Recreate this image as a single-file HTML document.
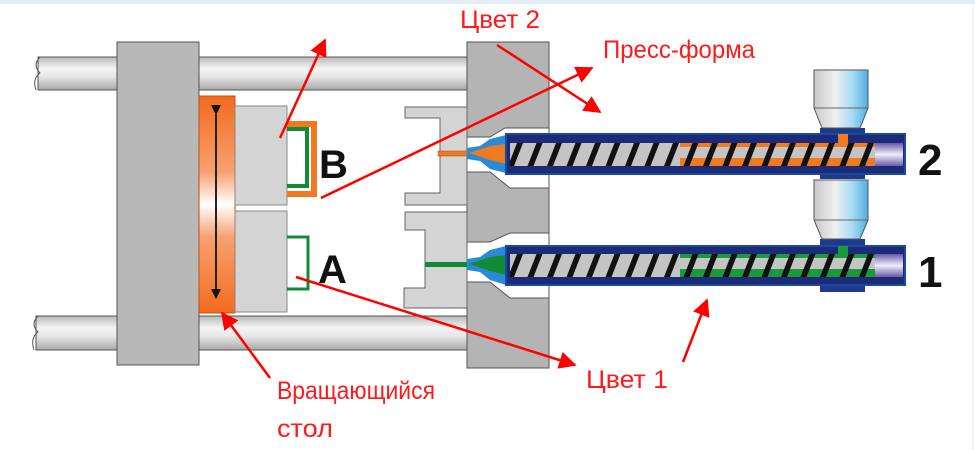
<!DOCTYPE html>
<html><head><meta charset="utf-8"><style>
html,body{margin:0;padding:0;background:#fff;width:975px;height:450px;overflow:hidden}
svg{display:block}
.r{font-family:"Liberation Sans",sans-serif;fill:#ff1a1a;font-size:25px}
.k{font-family:"Liberation Sans",sans-serif;font-weight:bold;fill:#111}
</style></head><body>
<svg width="975" height="450" viewBox="0 0 975 450" xmlns="http://www.w3.org/2000/svg">
<defs>
<linearGradient id="rod" x1="0" y1="0" x2="0" y2="1">
<stop offset="0" stop-color="#b8b8b8"/><stop offset="0.35" stop-color="#f4f4f4"/><stop offset="0.6" stop-color="#e6e6e6"/><stop offset="1" stop-color="#a8a8a8"/></linearGradient>
<linearGradient id="org" x1="0" y1="0" x2="0" y2="1">
<stop offset="0" stop-color="#f26b1d"/><stop offset="0.35" stop-color="#f8a070"/><stop offset="0.5" stop-color="#fff"/><stop offset="0.65" stop-color="#f8a070"/><stop offset="1" stop-color="#f26b1d"/></linearGradient>
<linearGradient id="hop" x1="0" y1="0" x2="1" y2="0">
<stop offset="0" stop-color="#c8c8c8"/><stop offset="0.4" stop-color="#f0f0f0"/><stop offset="0.7" stop-color="#a8dcf4"/><stop offset="1" stop-color="#4fb0e0"/></linearGradient>
<linearGradient id="pur" x1="0" y1="0" x2="0" y2="1">
<stop offset="0" stop-color="#6a5aa8"/><stop offset="0.5" stop-color="#eeeefa"/><stop offset="1" stop-color="#6a5aa8"/></linearGradient>
<pattern id="scr1" x="0" y="143" width="19.5" height="23" patternUnits="userSpaceOnUse">
<rect width="19.5" height="23" fill="#c4c4c4"/><polygon points="10,0 16,0 7,23 1,23" fill="#111"/></pattern>
<pattern id="scr2" x="0" y="254" width="19.5" height="23" patternUnits="userSpaceOnUse">
<rect width="19.5" height="23" fill="#c4c4c4"/><polygon points="10,0 16,0 7,23 1,23" fill="#111"/></pattern>
<pattern id="scrO" x="0" y="143" width="19.5" height="23" patternUnits="userSpaceOnUse">
<rect width="19.5" height="23" fill="#c4c4c4"/><rect y="0" width="19.5" height="4" fill="#f07a22"/><rect y="15" width="19.5" height="8" fill="#f07a22"/><polygon points="10,0 16,0 7,23 1,23" fill="#111"/></pattern>
<pattern id="scrG" x="0" y="254" width="19.5" height="23" patternUnits="userSpaceOnUse">
<rect width="19.5" height="23" fill="#c4c4c4"/><rect y="0" width="19.5" height="4" fill="#1a9a3a"/><rect y="15" width="19.5" height="8" fill="#1a9a3a"/><polygon points="10,0 16,0 7,23 1,23" fill="#111"/></pattern>
<marker id="ah" viewBox="0 0 10 10" refX="9" refY="5" markerWidth="7" markerHeight="7" orient="auto"><path d="M0,0 L10,5 L0,10 z" fill="#ff0000"/></marker>
<marker id="bh" viewBox="0 0 10 10" refX="9" refY="5" markerWidth="5" markerHeight="5" orient="auto"><path d="M0,0 L10,5 L0,10 z" fill="#111"/></marker>
</defs>
<rect x="0" y="0" width="975" height="4" fill="#e4ecf6"/>
<line x1="973" y1="4" x2="973" y2="450" stroke="#e8e8e8"/>
<rect x="38" y="57" width="430" height="33" fill="url(#rod)" stroke="#555" stroke-width="1"/>
<rect x="36" y="316" width="432" height="34" fill="url(#rod)" stroke="#555" stroke-width="1"/>
<path d="M40,57 q-8,8 0,16 q-8,6 -4,17" fill="none" stroke="#555"/>
<path d="M38,316 q-8,8 0,16 q-8,6 -4,18" fill="none" stroke="#555"/>
<rect x="117" y="42" width="82" height="323" fill="#b8b8b8" stroke="#555"/>
<rect x="199" y="96" width="36" height="217" fill="url(#org)" stroke="#c05010"/>
<line x1="216" y1="114" x2="216" y2="298" stroke="#222" stroke-width="2" marker-start="url(#bh)" marker-end="url(#bh)"/>
<rect x="235" y="106" width="52" height="99" fill="#d4d4d4" stroke="#888"/>
<rect x="235" y="211" width="52" height="101" fill="#d4d4d4" stroke="#888"/>
<path d="M287,124 H314 V194 H287" fill="none" stroke="#f07a22" stroke-width="6"/>
<path d="M287,129 H307 V186 H287" fill="none" stroke="#138a35" stroke-width="4"/>
<path d="M287,237 H308 V289 H287" fill="none" stroke="#138a35" stroke-width="3"/>
<text x="319" y="178" class="k" font-size="40">B</text>
<text x="318" y="283" class="k" font-size="40">A</text>
<polygon points="467,42 549,42 549,128 505,128 490,137 467,137" fill="#b4b4b4" stroke="#555"/>
<polygon points="467,172 490,172 510,188 549,188 549,233 510,233 490,242 467,242" fill="#b4b4b4" stroke="#555"/>
<polygon points="467,282 490,282 510,298 549,298 549,368 467,368" fill="#b4b4b4" stroke="#555"/>
<line x1="549" y1="128" x2="549" y2="368" stroke="#555"/>
<polygon points="405,107 467,107 467,205 405,205 405,193 440,193 440,118 405,118" fill="#d4d4d4" stroke="#666"/>
<polygon points="405,212 467,212 467,308 404,308 404,288 425,288 425,230 405,230" fill="#d4d4d4" stroke="#666"/>
<rect x="438" y="151" width="29" height="5" fill="#f07a22" stroke="#a04a10" stroke-width="0.5"/>
<rect x="425" y="262" width="42" height="5" fill="#138a35"/>
<polygon points="467,148 480,146 490,139 506,135 506,173 490,169 480,161 467,159" fill="#2a8ad8"/>
<polygon points="469,153 490,146 506,144 506,164 490,160" fill="#f07a22"/>
<polygon points="467,259 480,257 490,250 506,246 506,285 490,280 480,272 467,270" fill="#2a8ad8"/>
<polygon points="469,264 490,257 506,255 506,275 490,271" fill="#138a35"/>
<g>
<rect x="820" y="128" width="45" height="51" fill="#1d3a8c"/>
<rect x="506" y="134" width="399" height="40" fill="#1d2a78" stroke="#1a4aa0" stroke-width="2"/>
<rect x="510" y="143" width="170" height="23" fill="url(#scr1)"/>
<rect x="680" y="143" width="195" height="23" fill="url(#scrO)"/>
<rect x="838" y="134" width="10" height="10" fill="#f07a22"/>
<rect x="875" y="143" width="28" height="23" fill="url(#pur)"/>
<polygon points="814,70 868,70 868,108 860,128 822,128 814,108" fill="url(#hop)" stroke="#555"/>
<line x1="814" y1="108" x2="868" y2="108" stroke="#666"/>
</g>
<g>
<rect x="820" y="239" width="45" height="53" fill="#1d3a8c"/>
<rect x="506" y="246" width="399" height="39" fill="#1d2a78" stroke="#1a4aa0" stroke-width="2"/>
<rect x="510" y="254" width="170" height="23" fill="url(#scr2)"/>
<rect x="680" y="254" width="195" height="23" fill="url(#scrG)"/>
<rect x="838" y="246" width="10" height="8" fill="#1a9a3a"/>
<rect x="875" y="254" width="28" height="23" fill="url(#pur)"/>
<polygon points="814,180 868,180 868,220 860,239 822,239 814,220" fill="url(#hop)" stroke="#555"/>
<line x1="814" y1="220" x2="868" y2="220" stroke="#666"/>
</g>
<text x="918" y="175" class="k" font-size="44">2</text>
<text x="918" y="287" class="k" font-size="44">1</text>
<g stroke="#ff0000" stroke-width="2.5" fill="none" marker-end="url(#ah)">
<line x1="280" y1="138" x2="325" y2="40"/>
<line x1="321" y1="198" x2="592" y2="68"/>
<line x1="497" y1="45" x2="600" y2="112"/>
<line x1="296" y1="277" x2="575" y2="365"/>
<line x1="270" y1="378" x2="222" y2="313"/>
<line x1="683" y1="362" x2="707" y2="300"/>
</g>
<g class="r">
<text x="460" y="28" textLength="80" lengthAdjust="spacingAndGlyphs">Цвет 2</text>
<text x="603" y="58" textLength="152" lengthAdjust="spacingAndGlyphs">Пресс-форма</text>
<text x="586" y="388" textLength="82" lengthAdjust="spacingAndGlyphs">Цвет 1</text>
<text x="277" y="399" textLength="158" lengthAdjust="spacingAndGlyphs">Вращающийся</text>
<text x="277" y="437" textLength="56" lengthAdjust="spacingAndGlyphs">стол</text>
</g>
</svg>
</body></html>
